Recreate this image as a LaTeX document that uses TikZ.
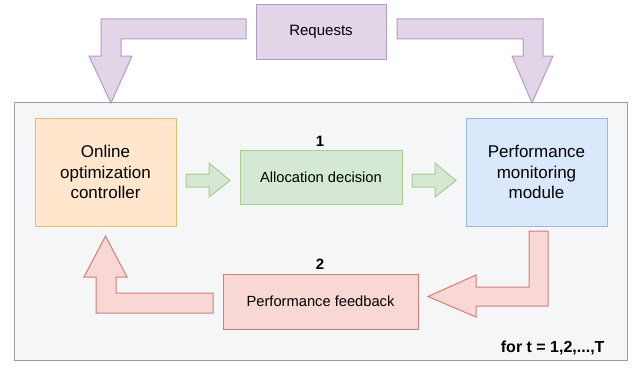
\documentclass[tikz,border=0pt]{standalone}
\usepackage{fontspec}
\setmainfont{Liberation Sans}
\usepackage{tikz}

\definecolor{frameline}{HTML}{9E9E9E}
\definecolor{framefill}{HTML}{F5F6F8}
\definecolor{purpfill}{HTML}{E1D5E7}
\definecolor{purpline}{HTML}{B39BC8}
\definecolor{orfill}{HTML}{FFE6CC}
\definecolor{orline}{HTML}{E6BE6A}
\definecolor{grfill}{HTML}{D5E8D4}
\definecolor{grline}{HTML}{A5CF8C}
\definecolor{blfill}{HTML}{DAE8FC}
\definecolor{blline}{HTML}{9DB6DE}
\definecolor{rdfill}{HTML}{F8D7D5}
\definecolor{rdline}{HTML}{D27D78}

\tikzset{
  box/.style={draw, line width=1pt, inner sep=0pt, outer sep=0pt, align=center},
  bigtext/.style={font=\fontsize{17}{20.5}\selectfont},
  smalltext/.style={font=\fontsize{14.7}{17}\selectfont},
  steplabel/.style={font=\bfseries\fontsize{15}{18}\selectfont}
}

\begin{document}
\begin{tikzpicture}[x=1pt,y=-1pt]
  \useasboundingbox (0,0) rectangle (644,369);
  % loop frame
  \draw[frameline, fill=framefill, line width=1pt] (14,102) rectangle (627,360);
  \node[anchor=east, font=\bfseries\fontsize{16}{19}\selectfont] (loop) at (608,348) {for t = 1,2,...,T};

  % boxes
  \node[box, draw=purpline, fill=purpfill, minimum width=130, minimum height=54,
        font=\fontsize{15}{18}\selectfont] (req) at (321,32) {Requests};
  \node[box, bigtext, draw=orline, fill=orfill, minimum width=141, minimum height=108] (ctrl) at (105.5,172)
    {Online\\optimization\\controller};
  \node[box, smalltext, draw=grline, fill=grfill, minimum width=162, minimum height=54] (alloc) at (321,177)
    {Allocation decision};
  \node[box, bigtext, draw=blline, fill=blfill, minimum width=141, minimum height=108] (mon) at (536.5,172)
    {Performance\\monitoring\\module};
  \node[box, smalltext, draw=rdline, fill=rdfill, minimum width=195, minimum height=55] (feed) at (320.5,301.5)
    {Performance feedback};
  \node[steplabel] (one) at (320,141) {1};
  \node[steplabel] (two) at (320,264) {2};

  % block arrows
  \draw[purpline, fill=purpfill, line width=1pt] (246,19) -- (101,19) -- (101,56) -- (89,56) -- (111,103)
    -- (132,56) -- (121,56) -- (121,39) -- (246,39) -- cycle;
  \draw[purpline, fill=purpfill, line width=1pt] (397,19) -- (543,19) -- (543,56) -- (553,56) -- (532,103)
    -- (512,56) -- (523,56) -- (523,39) -- (397,39) -- cycle;
  \draw[grline, fill=grfill, line width=1pt] (186,174) -- (209,174) -- (209,163) -- (230,180.5)
    -- (209,197) -- (209,187) -- (186,187) -- cycle;
  \draw[grline, fill=grfill, line width=1pt] (412,174) -- (435,174) -- (435,163) -- (456,180.5)
    -- (435,197) -- (435,187) -- (412,187) -- cycle;
  \draw[rdline, fill=rdfill, line width=1pt] (529,231) -- (548,231) -- (548,306) -- (476,306) -- (476,317)
    -- (428,296.5) -- (476,275) -- (476,287) -- (529,287) -- cycle;
  \draw[rdline, fill=rdfill, line width=1pt] (213,293) -- (116,293) -- (116,277) -- (127,277) -- (105.5,236)
    -- (84,277) -- (96,277) -- (96,313) -- (213,313) -- cycle;
\end{tikzpicture}
\end{document}
